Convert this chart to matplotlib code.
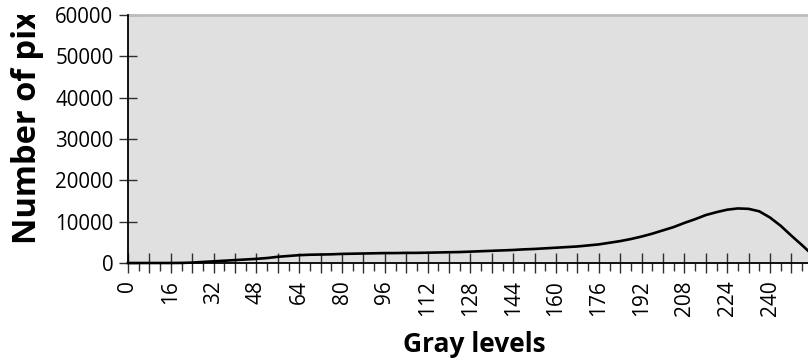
import matplotlib
matplotlib.use("Agg")
import matplotlib.pyplot as plt
from matplotlib.transforms import Bbox

plt.rcParams['font.family'] = ['Open Sans', 'DejaVu Sans']

gray_levels = [0, 4, 8, 12, 16, 20, 24, 28, 32, 36, 40, 44, 48, 52, 56, 60,
               64, 68, 72, 76, 80, 84, 88, 92, 96, 100, 104, 108, 112, 116, 120, 124,
               128, 132, 136, 140, 144, 148, 152, 156, 160, 164, 168, 172, 176, 180, 184, 188,
               192, 196, 200, 204, 208, 212, 216, 220, 224, 228, 232, 236, 240, 244, 248, 252, 255]
pixel_counts = [0, 0, 0, 0, 0, 20, 100, 250, 400, 550, 700, 850, 1000, 1200, 1500, 1700,
                1900, 2000, 2050, 2100, 2200, 2250, 2300, 2350, 2400, 2400, 2450, 2450, 2500, 2550, 2600, 2650,
                2750, 2850, 2950, 3050, 3150, 3300, 3400, 3550, 3700, 3850, 4000, 4250, 4500, 4900, 5300, 5800,
                6400, 7100, 7900, 8700, 9700, 10600, 11600, 12300, 12900, 13200, 13100, 12500, 11000, 9000, 6600, 4300, 2500]
x_tick_labels = [str(v) for v in range(0, 256, 16)]
y_ticks = [0, 10000, 20000, 30000, 40000, 50000, 60000]

W, H = 808, 363
fig = plt.figure(figsize=(W / 100, H / 100), dpi=100)
fig.patch.set_facecolor('white')
ax = fig.add_axes([128 / W, 100 / H, 680 / W, 248 / H])
ax.set_facecolor('#e0e0e0')

ax.plot(gray_levels, pixel_counts, color='black', linewidth=1.9, clip_on=False, zorder=3)

ax.set_xlim(0, 254.2)
ax.set_ylim(0, 60000)

ax.set_xticks(list(range(0, 256, 8)))
ax.set_xticklabels([str(v) if v % 16 == 0 else '' for v in range(0, 256, 8)],
                   rotation=90, fontsize=15)
ax.set_xticks(list(range(4, 256, 8)), minor=True)
ax.tick_params(axis='x', which='major', direction='inout', length=14, width=1.0,
               color='#303030', pad=5.5)
ax.tick_params(axis='x', which='minor', direction='out', length=6, width=1.0,
               color='#303030')
ax.set_yticks(y_ticks)
ax.set_yticklabels([str(v) for v in y_ticks], fontsize=14.8)
ax.tick_params(axis='y', which='major', direction='inout', length=13, width=1.0,
               color='#303030', pad=4)

for s in ['left', 'bottom']:
    ax.spines[s].set_color('black')
    ax.spines[s].set_linewidth(1.3)
    ax.spines[s].set_zorder(4)
ax.spines['top'].set_color('#bdbdbd')
ax.spines['top'].set_linewidth(2.0)
ax.spines['right'].set_visible(False)

fig.text(403 / W, (H - 351.7) / H, 'Gray levels', fontsize=19, fontweight='bold',
         ha='left', va='baseline')
yl = fig.text(36 / W, (H - 244) / H, 'Number of pixels', fontsize=23.5, fontweight='bold',
              rotation=90, rotation_mode='anchor', ha='left', va='baseline')
yl.set_clip_box(Bbox.from_extents(0, 0, 128, H - 15))
yl.set_clip_on(True)

fig.savefig('out.png', dpi=100)
